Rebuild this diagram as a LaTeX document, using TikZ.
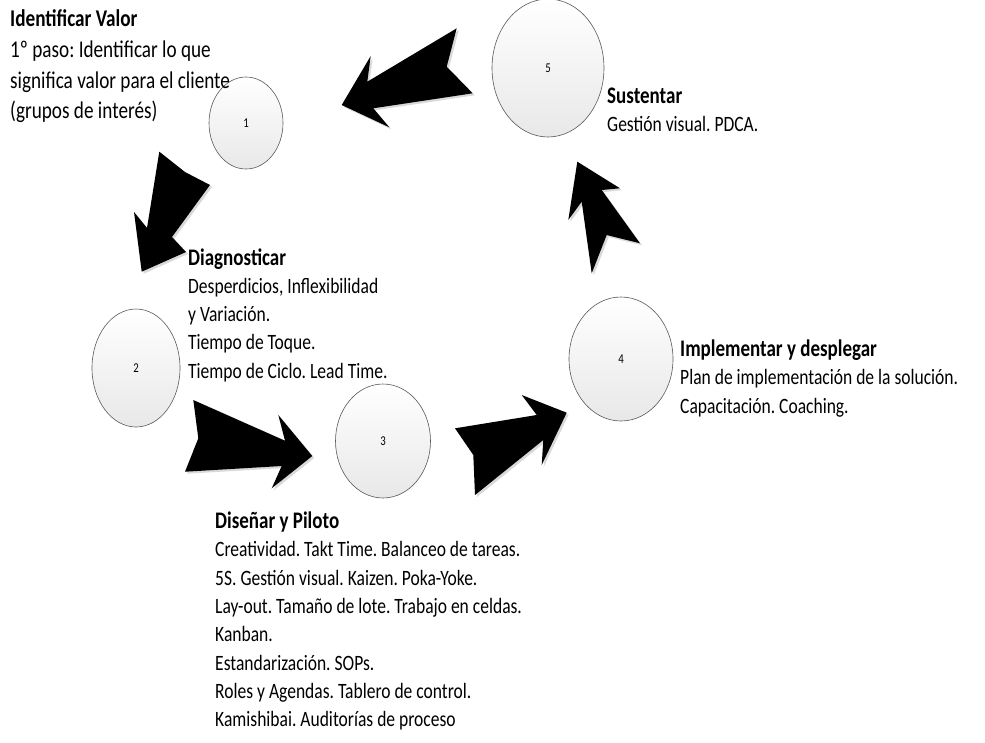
\documentclass[tikz,border=0pt]{standalone}
\usepackage{fontspec}
\setmainfont{Carlito}
\usetikzlibrary{shapes.geometric}
\frenchspacing
% narrow, tall lettering: set large, then squeeze horizontally
\newcommand{\narrowtext}[3]{\scalebox{0.8}[1]{\fontsize{#1}{#2}\selectfont
  \begin{tabular}{@{}l@{}}#3\end{tabular}}}
\newcommand{\heading}[1]{{\fontsize{23.75}{28.3}\selectfont\bfseries #1}}
\begin{document}
\begin{tikzpicture}[x=1pt,y=-1pt,
  stage/.style={ellipse, draw=black!65, line width=0.6pt, top color=white,
    bottom color=black!9, inner sep=0pt},
  desc/.style={anchor=north west, inner sep=0pt},
  bigarrow/.style={fill=black},
  arrowshadow/.style={fill=black!15}
]
\newcommand{\stagenum}[1]{\scalebox{0.8}[1]{\fontsize{13.5}{15}\selectfont #1}}
\useasboundingbox (0,0) rectangle (985,742);
\fill[white] (0,0) rectangle (985,742);

% process stages
\node[stage, minimum width=74, minimum height=92] (c1) at (246,123) {\stagenum{1}};
\node[stage, minimum width=88, minimum height=118] (c2) at (136,368) {\stagenum{2}};
\node[stage, minimum width=95, minimum height=114] (c3) at (383,441) {\stagenum{3}};
\node[stage, minimum width=104, minimum height=124] (c4) at (621,359) {\stagenum{4}};
\node[stage, minimum width=112, minimum height=138] (c5) at (548,68) {\stagenum{5}};

% block arrows between stages (shadow first, then arrow)
\newcommand{\arrowAA}{(456.7,28.3) -- (367.3,81.7) -- (370.7,56) -- (341.7,105) -- (389.3,127.3) -- (373.3,108.3) -- (472.7,93.3) -- (446.7,66.7) -- cycle}
\newcommand{\arrowBB}{(159.3,151.7) -- (185,172) -- (210,185) -- (172,237) -- (186,252) -- (141.7,271.7) -- (134,212) -- (147,228) -- cycle}
\newcommand{\arrowCC}{(193.3,400) -- (285,440.7) -- (278.3,415) -- (312.3,456) -- (271.7,488.3) -- (281.7,466) -- (185,471.7) -- (198.3,438.3) -- cycle}
\newcommand{\arrowDD}{(475,495) -- (473.3,455) -- (455,428.3) -- (536.7,415) -- (521.7,395) -- (566.7,412.7) -- (541.7,465) -- (543.3,440) -- cycle}
\newcommand{\arrowEE}{(577.3,161.7) -- (620,188.3) -- (601.7,190) -- (640,243.3) -- (606.7,235) -- (591.7,273.3) -- (581.7,201.7) -- (568.3,220) -- cycle}

\foreach \a in {\arrowAA,\arrowBB,\arrowCC,\arrowDD,\arrowEE}{
  \fill[arrowshadow, shift={(2,2)}] \a;
  \fill[bigarrow] \a;
}

% stage descriptions
\node[desc] (t1) at (10,5)
  {\narrowtext{24}{30.7}{\textbf{Identificar Valor}\\
   1º paso: Identificar lo que\\
   significa valor para el cliente\\
   (grupos de interés)}};
\node[desc] (t2) at (188,245)
  {\narrowtext{21.9}{28.3}{\heading{Diagnosticar}\\
   Desperdicios, Inflexibilidad\\
   y Variación.\\
   Tiempo de Toque.\\
   Tiempo de Ciclo. Lead Time.}};
\node[desc] (t3) at (215,508.5)
  {\narrowtext{21.9}{28.3}{\heading{Diseñar y Piloto}\\
   Creatividad. Takt Time. Balanceo de tareas.\\
   5S. Gestión visual. Kaizen. Poka-Yoke.\\
   Lay-out. Tamaño de lote. Trabajo en celdas.\\
   Kanban.\\
   Estandarización. SOPs.\\
   Roles y Agendas. Tablero de control.\\
   Kamishibai. Auditorías de proceso}};
\node[desc] (t4) at (680,336.5)
  {\narrowtext{21.9}{28.3}{\heading{Implementar y desplegar}\\
   Plan de implementación de la solución.\\
   Capacitación. Coaching.}};
\node[desc] (t5) at (607,83.5)
  {\narrowtext{21.9}{28.3}{\heading{Sustentar}\\
   Gestión visual. PDCA.}};
\end{tikzpicture}
\end{document}
